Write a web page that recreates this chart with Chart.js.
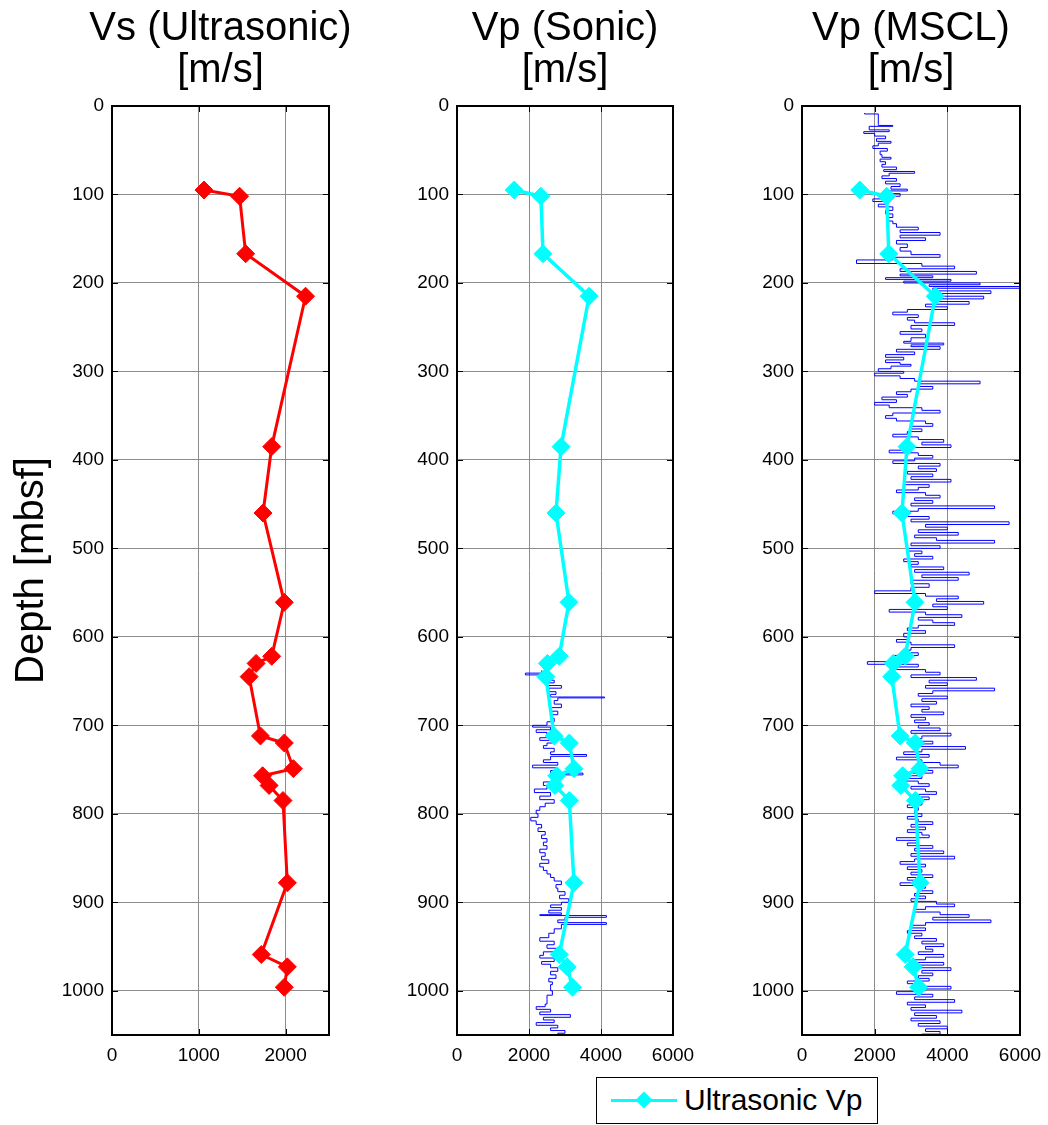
<!DOCTYPE html>
<html>
<head>
<meta charset="utf-8">
<script src="https://cdn.jsdelivr.net/npm/chart.js@4.4.1/dist/chart.umd.min.js"></script>
<style>
  body { margin: 0; background: #fff; width: 1048px; height: 1125px; position: relative; overflow: hidden;
         font-family: "Liberation Sans", Arial, sans-serif; }
  .panel { position: absolute; top: 0; }
  #legend { position: absolute; left: 596px; top: 1077px; width: 280px; height: 45px; border: 1px solid #000; background: #fff; }
  #legend .line { position: absolute; left: 14px; top: 21px; width: 66px; height: 3px; background: #00ffff; }
  #legend .mark { position: absolute; left: 41px; top: 16px; width: 12px; height: 12px; background: #00ffff; transform: rotate(45deg); }
  #legend .txt { position: absolute; left: 87px; top: 4px; font-size: 30px; line-height: 36px; color: #000; }
</style>
</head>
<body>
<!-- each canvas is centred on its plot so the title sits over the plot -->
<div class="panel" style="left:0px"><canvas id="vsChart" width="441" height="1075"></canvas></div>
<div class="panel" style="left:350px"><canvas id="sonicChart" width="430" height="1075"></canvas></div>
<div class="panel" style="left:695px"><canvas id="msclChart" width="432" height="1075"></canvas></div>
<div id="legend"><span class="line"></span><span class="mark"></span><span class="txt">Ultrasonic Vp</span></div>

<script>
const depthTicks = [0, 100, 200, 300, 400, 500, 600, 700, 800, 900, 1000];
const vsTicks = [0, 1000, 2000];
const vpTicks = [0, 2000, 4000, 6000];

// core samples (ultrasonic), depth in mbsf
const sampleDepth = [95, 102, 167, 215, 385, 460, 561, 622, 630, 645, 712, 720, 749, 757, 768, 785, 878, 959, 973, 996];
const vsUltrasonic = [1060, 1470, 1540, 2230, 1840, 1740, 1985, 1840, 1660, 1580, 1710, 1985, 2090, 1735, 1810, 1970, 2020, 1720, 2020, 1985];
const vpUltrasonic = [1590, 2330, 2390, 3670, 2890, 2750, 3110, 2840, 2510, 2470, 2700, 3120, 3250, 2770, 2720, 3120, 3250, 2840, 3060, 3210];

// downhole sonic log [depth, vp]
const sonicLog = [
  [638,2350],[641,1900],[643,2600],[646,2400],[649,2700],[652,2500],[655,2900],[658,2550],[662,2750],[665,2600],
  [668,4100],[669,2800],[672,2700],[676,2900],[680,2600],[684,2800],[688,2650],[692,2700],[696,2500],[700,2100],
  [702,2600],[705,2200],[708,2500],[711,2700],[714,2300],[717,2650],[720,2500],[723,2400],[726,2700],[730,2600],
  [733,3600],[735,2600],[739,2400],[742,2800],[745,2100],[748,2800],[751,2600],[754,3500],[756,2600],[760,2750],
  [764,2400],[768,2500],[772,2150],[776,2600],[780,2300],[784,2700],[788,2450],[792,2300],[796,2200],[800,2250],
  [804,2050],[808,2200],[812,2350],[816,2250],[820,2450],[824,2350],[828,2500],[832,2400],[836,2500],[840,2300],
  [844,2450],[848,2350],[852,2550],[856,2300],[860,2400],[864,2500],[868,2600],[872,2700],[876,2900],[880,2750],
  [884,2800],[888,3000],[892,2850],[896,3100],[900,2900],[903,2600],[906,2900],[909,2550],[912,2900],[914,2300],
  [915,4150],[917,3000],[920,2800],[923,4150],[925,2900],[930,2700],[935,2550],[940,2300],[944,2700],[948,2500],
  [952,2800],[956,2400],[960,2300],[963,2700],[967,2350],[970,2600],[974,2800],[978,2600],[982,2750],[986,2550],
  [990,2650],[993,2600],[996,2600],[1000,2650],[1005,2500],[1010,2500],[1015,2450],[1018,2200],[1021,2600],[1024,2300],
  [1027,3150],[1030,2400],[1033,2700],[1036,2200],[1039,2800],[1042,2600],[1045,3000],[1048,2800],[1050,3100]
];

// MSCL core log [depth, vp]
const msclLog = [
  [8,1720],[9,2100],[21,2100],[22,2500],[23,1850],[27,2400],[29,1700],[31,2000],[34,2300],[37,2050],
  [40,2450],[42,2100],[45,1950],[48,2350],[51,2150],[55,2200],[58,2450],[60,2150],[63,2300],[66,2200],
  [69,2600],[72,2250],[74,3100],[76,2400],[79,2200],[82,2600],[85,2300],[88,2700],[91,2450],[94,2900],
  [96,2400],[99,2700],[102,2200],[105,1950],[108,2300],[111,2100],[114,2500],[118,2300],[122,2500],[126,2350],
  [130,2500],[133,2600],[137,3200],[140,2700],[143,3800],[146,2700],[149,3400],[152,2600],[156,2900],[160,2700],
  [164,3000],[168,3800],[171,2500],[174,1500],[178,3300],[181,4200],[184,2700],[187,4800],[190,2700],[192,3600],
  [194,2300],[196,4100],[198,2800],[200,4900],[202,3500],[204,6000],[206,3600],[209,5200],[212,3700],[215,5000],
  [218,3600],[221,4600],[224,3400],[227,4000],[230,2900],[233,2500],[236,3200],[239,2900],[242,3100],[245,4200],
  [248,3000],[252,3300],[255,2700],[258,3400],[262,3000],[266,2800],[268,3900],[270,3000],[272,3800],[275,2600],
  [278,3100],[281,2300],[284,2800],[287,2300],[290,2700],[292,3000],[294,2450],[297,2100],[300,2800],[302,2000],
  [305,2700],[308,3100],[311,4900],[314,3200],[317,3600],[320,3000],[323,2600],[326,2900],[329,2200],[332,2600],
  [335,2000],[338,2400],[341,3300],[344,3800],[347,2500],[350,2300],[353,2600],[356,3400],[359,3600],[362,3000],
  [365,3300],[368,2900],[371,2500],[374,3200],[377,3900],[380,3300],[383,4100],[386,3000],[389,2400],[392,3200],
  [395,3600],[398,3100],[401,2500],[404,3800],[407,3200],[410,3700],[413,2900],[416,3600],[419,3000],[422,4100],
  [425,2800],[428,3500],[431,3200],[434,2600],[437,3400],[440,3800],[443,3100],[446,3600],[449,3000],[452,5300],
  [455,3200],[458,2500],[461,2800],[464,3500],[467,3000],[470,5700],[473,3400],[476,4000],[479,3200],[482,4300],
  [485,3100],[488,3700],[491,5300],[494,3000],[497,3800],[500,2900],[503,3300],[506,3100],[509,3600],[512,2800],
  [515,3200],[518,3000],[521,3900],[524,3100],[527,4600],[530,3300],[533,4300],[536,3000],[540,3500],[544,3000],
  [548,2000],[551,3400],[554,4300],[557,3700],[560,5000],[563,3600],[566,4000],[569,2400],[572,3400],[575,4400],
  [578,3200],[581,3600],[584,4200],[587,3200],[590,2900],[593,3400],[596,2800],[600,2900],[603,2600],[606,3000],
  [609,4200],[612,3000],[615,2800],[618,3200],[621,2500],[625,2700],[628,1800],[631,3200],[634,2600],[637,3400],
  [640,3800],[643,3000],[646,4800],[649,3500],[652,4000],[655,3400],[658,5300],[661,3600],[664,3200],[667,4000],
  [670,3300],[673,3700],[676,3000],[679,3500],[682,3300],[685,3900],[688,3000],[691,3400],[694,3100],[697,3500],
  [700,3200],[703,3800],[706,3000],[709,4100],[712,3300],[715,3000],[718,3600],[721,3200],[724,4500],[727,3300],
  [730,2800],[733,3500],[736,2600],[739,3300],[742,3800],[745,4300],[748,3100],[751,3600],[754,2900],[757,3300],
  [760,2800],[763,3200],[766,3500],[769,3000],[772,3400],[775,3700],[778,3200],[781,3500],[784,3000],[787,3300],
  [790,2900],[793,3200],[796,3100],[800,3300],[803,2900],[806,3200],[809,3600],[812,3000],[815,3400],[818,2900],
  [821,3300],[824,3500],[827,2600],[830,3200],[833,2900],[836,3600],[839,3100],[842,3900],[845,3000],[848,4200],
  [851,3100],[854,2700],[857,3400],[860,2900],[863,3300],[866,3000],[869,3600],[872,2900],[875,3300],[878,2700],
  [881,3400],[884,3200],[887,3600],[890,3100],[893,3400],[896,3000],[899,3700],[902,4200],[905,3400],[908,3100],
  [911,3800],[914,4600],[917,3600],[920,5200],[923,3400],[926,3000],[929,3400],[932,2900],[935,3300],[938,3100],
  [941,3700],[944,3300],[947,3900],[950,3400],[953,3600],[956,3200],[959,3900],[962,3400],[965,3000],[968,3900],
  [971,3200],[974,4100],[977,3300],[980,3600],[983,3200],[986,3500],[989,2900],[992,3300],[995,4100],[998,3200],
  [1001,2600],[1004,3600],[1007,3100],[1010,4200],[1013,2900],[1016,3400],[1019,3000],[1022,4400],[1025,3100],[1028,3700],
  [1031,3000],[1034,3800],[1037,3200],[1040,4000],[1043,3400],[1046,3800],[1049,3300]
];

Chart.defaults.font.family = '"Liberation Sans", Arial, sans-serif';
Chart.defaults.color = '#000';

const toPoints = (depths, vals) => depths.map((d, i) => ({ x: vals[i], y: d }));
const logPoints = log => log.map(p => ({ x: p[1], y: p[0] }));

// box around plot + inward tick marks like matlab
const framePlugin = {
  id: 'frame',
  afterDraw(chart) {
    const ctx = chart.ctx, a = chart.chartArea, sx = chart.scales.x, sy = chart.scales.y;
    ctx.save();
    ctx.strokeStyle = '#000';
    ctx.lineWidth = 1;
    ctx.beginPath();
    sx.ticks.forEach(t => {
      const px = Math.round(sx.getPixelForValue(t.value)) + 0.5;
      ctx.moveTo(px, a.bottom); ctx.lineTo(px, a.bottom - 6);
      ctx.moveTo(px, a.top); ctx.lineTo(px, a.top + 6);
    });
    sy.ticks.forEach(t => {
      const py = Math.round(sy.getPixelForValue(t.value)) + 0.5;
      ctx.moveTo(a.left, py); ctx.lineTo(a.left + 6, py);
      ctx.moveTo(a.right, py); ctx.lineTo(a.right - 6, py);
    });
    ctx.stroke();
    ctx.lineWidth = 2;
    ctx.strokeRect(a.left, a.top, a.right - a.left, a.bottom - a.top);
    ctx.restore();
  }
};

function makePanel(id, title, xMax, xTicks, yWidth, rightWidth, datasets, yTitle) {
  return new Chart(document.getElementById(id), {
    type: 'scatter',
    data: { datasets: datasets },
    plugins: [framePlugin],
    options: {
      responsive: false,
      animation: false,
      layout: { padding: 0 },
      plugins: {
        legend: { display: false },
        tooltip: { enabled: false },
        title: {
          display: true,
          text: title,
          font: { size: 40, weight: 'normal', lineHeight: 1.05 },
          padding: { top: 8, bottom: 14 }
        }
      },
      scales: {
        x: {
          type: 'linear', min: 0, max: xMax,
          afterBuildTicks: s => { s.ticks = xTicks.map(v => ({ value: v })); },
          afterFit: s => { s.height = 40; },
          grid: { color: '#8c8c8c', lineWidth: 1, drawTicks: false },
          border: { display: false },
          ticks: { font: { size: 19 }, padding: 9, maxRotation: 0, callback: v => String(v) }
        },
        y: {
          type: 'linear', min: 0, max: 1050, reverse: true,
          afterBuildTicks: s => { s.ticks = depthTicks.map(v => ({ value: v })); },
          afterFit: s => { s.width = yWidth; },
          grid: { color: '#8c8c8c', lineWidth: 1, drawTicks: false },
          border: { display: false },
          ticks: { font: { size: 19 }, padding: 8, callback: v => String(v) },
          title: { display: !!yTitle, text: yTitle || '', font: { size: 40 }, padding: { top: 8, bottom: 0 } }
        },
        // empty right-hand spacer so the plot stays centred under its title
        yr: {
          type: 'linear', position: 'right', min: 0, max: 1050,
          afterFit: s => { s.width = rightWidth; },
          grid: { display: false }, border: { display: false },
          ticks: { display: false }
        }
      }
    }
  });
}

const cyanSet = {
  label: 'Ultrasonic Vp',
  data: toPoints(sampleDepth, vpUltrasonic),
  showLine: true,
  borderColor: '#00ffff', backgroundColor: '#00ffff',
  borderWidth: 3.5, pointStyle: 'rectRot', pointRadius: 9, pointBorderWidth: 1,
  order: 0
};

makePanel('vsChart', ['Vs (Ultrasonic)', '[m/s]'], 2500, vsTicks, 112, 112, [{
  label: 'Ultrasonic Vs',
  data: toPoints(sampleDepth, vsUltrasonic),
  showLine: true,
  borderColor: '#ff0000', backgroundColor: '#ff0000',
  borderWidth: 3, pointStyle: 'rectRot', pointRadius: 9, pointBorderWidth: 1
}], 'Depth [mbsf]');

// logs are drawn as steps, like the source plot
makePanel('sonicChart', ['Vp (Sonic)', '[m/s]'], 6000, vpTicks, 107, 107, [
  Object.assign({}, cyanSet),
  { label: 'Sonic', data: logPoints(sonicLog), showLine: true, stepped: 'after', borderColor: '#0000ff', borderWidth: 1, pointRadius: 0, order: 1 }
]);

makePanel('msclChart', ['Vp (MSCL)', '[m/s]'], 6000, vpTicks, 107, 107, [
  Object.assign({}, cyanSet),
  { label: 'MSCL', data: logPoints(msclLog), showLine: true, stepped: 'after', borderColor: '#0000ff', borderWidth: 1, pointRadius: 0, order: 1 }
]);
</script>
</body>
</html>
